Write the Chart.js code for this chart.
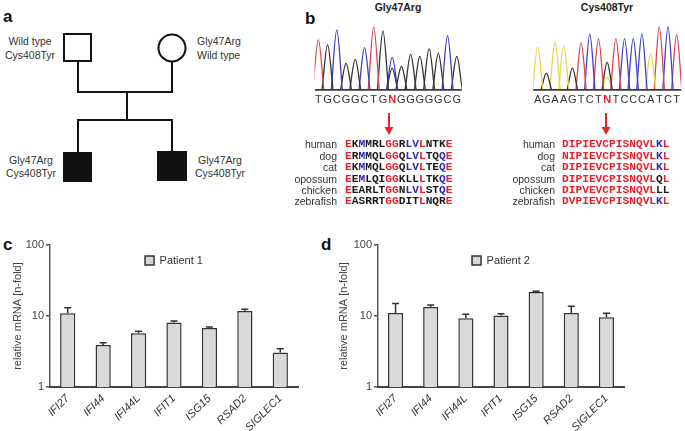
<!DOCTYPE html>
<html>
<head>
<meta charset="utf-8">
<script src="https://cdn.jsdelivr.net/npm/chart.js@4.4.1/dist/chart.umd.min.js"></script>
<style>
  body { margin: 0; width: 685px; height: 431px; position: relative; overflow: hidden; background: #fff;
         font-family: "Liberation Sans", Arial, sans-serif; color: #333; }
  .abs { position: absolute; }
  .panel { font-weight: bold; font-size: 17px; color: #111; line-height: 1; }
  .ttl { font-weight: bold; font-size: 10.5px; color: #222; transform: translateX(-50%); white-space: nowrap; }
  .row { position: absolute; height: 11.4px; line-height: 11.4px; white-space: nowrap; }
  .sp { font-size: 10.5px; color: #333; text-align: right; width: 80px; }
  .aa { font-family: "Liberation Mono", "Courier New", monospace; font-weight: bold; font-size: 11.2px; }
</style>
</head>
<body>
<!-- panel letters -->
<div class="abs panel" style="left:3px;top:8px">a</div>
<div class="abs panel" style="left:305px;top:10px">b</div>
<div class="abs panel" style="left:3px;top:236px">c</div>
<div class="abs panel" style="left:321px;top:236px">d</div>

<!-- a: pedigree -->
<svg class="abs" style="left:0;top:0" width="300" height="230" font-family="Liberation Sans, Arial, sans-serif" font-size="10.5" fill="#333">
  <g stroke="#111" stroke-width="2" fill="none">
    <rect x="64" y="34" width="27" height="27" fill="#fff"/>
    <circle cx="172" cy="48" r="13.5" fill="#fff"/>
    <polyline points="78,61 78,92 172,92 172,61.5"/>
    <line x1="127" y1="92" x2="127" y2="120"/>
    <polyline points="78,153 78,120 172,120 172,152"/>
    <rect x="64" y="153" width="27" height="28" fill="#111"/>
    <rect x="158" y="152" width="28" height="28" fill="#111"/>
  </g>
  <g text-anchor="middle" dominant-baseline="middle">
    <text x="30" y="42">Wild type</text>
    <text x="30" y="56">Cys408Tyr</text>
    <text x="31" y="161">Gly47Arg</text>
    <text x="31" y="174">Cys408Tyr</text>
    <text x="220" y="161">Gly47Arg</text>
    <text x="220" y="174">Cys408Tyr</text>
  </g>
  <g dominant-baseline="middle">
    <text x="197" y="42">Gly47Arg</text>
    <text x="197" y="56">Wild type</text>
  </g>
</svg>

<!-- b: chromatograms -->
<div class="abs ttl" style="left:398px;top:1px">Gly47Arg</div>
<div class="abs ttl" style="left:607px;top:1px">Cys408Tyr</div>
<canvas id="chromGly" class="abs" style="left:313px;top:21px" width="150" height="88"></canvas>
<canvas id="chromCys" class="abs" style="left:532px;top:21px" width="150" height="88"></canvas>
<svg class="abs" style="left:300px;top:105px" width="385" height="35">
  <g stroke="#e3262c" stroke-width="2" fill="#e3262c">
    <line x1="89" y1="8" x2="89" y2="23"/>
    <polygon points="84.5,22 93.5,22 89,30" stroke="none"/>
    <line x1="306" y1="8" x2="306" y2="23"/>
    <polygon points="301.5,22 310.5,22 306,30" stroke="none"/>
  </g>
</svg>
<div id="alnGly"></div>
<div id="alnCys"></div>

<!-- c, d: bar charts -->
<canvas id="chartC" class="abs" style="left:0;top:230px" width="340" height="201"></canvas>
<canvas id="chartD" class="abs" style="left:337px;top:230px" width="348" height="201"></canvas>

<script>
// ---- panel c / d data ----
const genes = ['IFI27', 'IFI44', 'IFI44L', 'IFIT1', 'ISG15', 'RSAD2', 'SIGLEC1'];
const patient1 = [10.9, 3.9, 5.7, 8.1, 6.8, 11.8, 3.05];
const patient1ErrTop = [13.1, 4.2, 6.1, 8.5, 7.0, 12.4, 3.45];
const patient2 = [11.0, 13.4, 9.3, 10.2, 21.8, 11.0, 9.6];
const patient2ErrTop = [15.0, 14.3, 10.6, 10.8, 22.4, 13.7, 10.9];
const yTicks = [1, 10, 100];

// ---- panel b data ----
const seqGly = ['T','G','C','G','G','C','T','G','N','G','G','G','G','G','C','G'];
const peakGly = ['T','G','C','G','G','C','T','G','C','G','G','G','G','G','C','G'];
const heightGly = [51, 46, 61, 27, 31, 43, 64, 60, 33, 24, 36, 34, 42, 37, 55, 34];
const hetGly = [8, 'G', 22];   // second peak under N: position, base, height

const seqCys = ['A','G','A','A','G','T','C','T','N','T','C','C','C','A','T','C','T'];
const peakCys = ['A','G','A','A','G','T','C','T','G','T','C','C','C','A','T','C','T'];
const heightCys = [44, 17, 49, 45, 22, 48, 57, 52, 28, 52, 52, 52, 57, 37, 64, 64, 56];
const hetCys = [8, 'A', 13];

const baseColors = { A: '#e9d650', C: '#3f3fc4', G: '#333333', T: '#dc4650' };

const species = ['human', 'dog', 'cat', 'opossum', 'chicken', 'zebrafish'];
const alnGly = ['EKMMRLGGRLVLNTKE', 'ERMMQLGGQLVLTQQE', 'EKMMQLGGQLVLTEQE',
                'EEMLQIGGKLLLTKQE', 'EEARLTGGNLVLSTQE', 'EASRRTGGDITLNQRE'];
const alnGlyCol = ['rkbkkkrrkbbrkkkr', 'rkbkkkrrkbbrkkbr', 'rkbkkkrrkbbrkkbr',
                   'rkbkkkrrkkkrkkbr', 'rkkkkkrrkbbrkkbr', 'rkkkkkrrkkkrkkkr'];
const alnCys = ['DIPIEVCPISNQVLKL', 'NIPIEVCPISNQVLKL', 'DIPIEVCPISNQVLKL',
                'DIPIEVCPISNQVLQL', 'DIPVEVCPISNQVLLL', 'DVPIEVCPISNQVLKL'];
const alnCysCol = ['rrrrrrrrrrrrrrbr', 'rrrrrrrrrrrrrrbr', 'rrrrrrrrrrrrrrbr',
                   'rrrrrrrrrrrrrrkr', 'rrrrrrrrrrrrrrkk', 'rrrrrrrrrrrrrrbr'];
const resColors = { r: '#e8222c', b: '#2a2ab4', k: '#1a1a1a' };

// alignments
function buildAlignment(id, labelRight, seqLeft, seqs, cols) {
    const box = document.getElementById(id);
    species.forEach((name, r) => {
        const top = 139.3 + r * 11.4;
        const lab = document.createElement('div');
        lab.className = 'row sp';
        lab.style.left = (labelRight - 80) + 'px';
        lab.style.top = top + 'px';
        lab.textContent = name;
        box.appendChild(lab);
        const s = document.createElement('div');
        s.className = 'row aa';
        s.style.left = seqLeft + 'px';
        s.style.top = top + 'px';
        s.innerHTML = [...seqs[r]].map((c, i) =>
            '<span style="color:' + resColors[cols[r][i]] + '">' + c + '</span>').join('');
        box.appendChild(s);
    });
}
buildAlignment('alnGly', 337, 345, alnGly, alnGlyCol);
buildAlignment('alnCys', 555, 562, alnCys, alnCysCol);

// chromatograms
function peak(pos, base, h) {
    return {
        data: [{ x: pos - 0.6, y: 0 }, { x: pos, y: h }, { x: pos + 0.6, y: 0 }],
        borderColor: baseColors[base],
        borderWidth: 1.3,
        cubicInterpolationMode: 'monotone',
        pointRadius: 0,
        fill: false
    };
}

function chromatogram(id, seq, bases, heights, het, xmin, xmax) {
    const datasets = [{
        data: [{ x: xmin, y: 0 }, { x: xmax, y: 0 }],
        borderColor: '#3a3a3a', borderWidth: 1.6, pointRadius: 0
    }];
    bases.forEach((b, i) => datasets.push(peak(i, b, heights[i])));
    datasets.push(peak(het[0], het[1], het[2]));

    new Chart(document.getElementById(id), {
        type: 'line',
        data: { datasets: datasets },
        options: {
            responsive: false,
            animation: false,
            events: [],
            layout: { padding: 0 },
            plugins: { legend: { display: false }, tooltip: { enabled: false } },
            scales: {
                x: {
                    type: 'linear', min: xmin, max: xmax,
                    grid: { display: false, drawTicks: false },
                    border: { display: false },
                    afterBuildTicks: s => { s.ticks = seq.map((c, i) => ({ value: i })); },
                    ticks: {
                        autoSkip: false, maxRotation: 0, padding: 2,
                        callback: v => seq[Math.round(v)],
                        color: ctx => seq[ctx.index] === 'N' ? '#e3262c' : '#333',
                        font: ctx => ({ family: 'Liberation Sans', size: 11,
                                        weight: seq[ctx.index] === 'N' ? 'bold' : 'normal' })
                    }
                },
                y: { display: false, min: -2, max: 70 }
            }
        }
    });
}
chromatogram('chromGly', seqGly, peakGly, heightGly, hetGly, -0.4, 15.55);
chromatogram('chromCys', seqCys, peakCys, heightCys, hetCys, -0.53, 16.53);

// one-sided (upper) error bars
const errorBars = {
    id: 'errorBars',
    afterDatasetsDraw(chart) {
        const ctx = chart.ctx;
        const y = chart.scales.y;
        chart.data.datasets.forEach((ds, di) => {
            chart.getDatasetMeta(di).data.forEach((bar, i) => {
                const top = y.getPixelForValue(ds.errTop[i]);
                ctx.save();
                ctx.strokeStyle = '#333';
                ctx.lineWidth = 1.5;
                ctx.beginPath();
                ctx.moveTo(bar.x, bar.y);
                ctx.lineTo(bar.x, top);
                ctx.moveTo(bar.x - 3.5, top);
                ctx.lineTo(bar.x + 3.5, top);
                ctx.stroke();
                ctx.restore();
            });
        });
    }
};

// legend sits inside the plot, centred near the top
const centerLegend = {
    id: 'centerLegend',
    afterLayout(chart) {
        const l = chart.legend, ca = chart.chartArea;
        const w = l.width, h = l.height;
        l.left = (ca.left + ca.right) / 2 - w / 2;
        l.right = l.left + w;
        l.top = ca.top;
        l.bottom = l.top + h;
    }
};

function barChart(id, label, values, errTop, yWidth, titlePad, rightPad) {
    new Chart(document.getElementById(id), {
        type: 'bar',
        data: {
            labels: genes,
            datasets: [{
                label: label,
                data: values,
                errTop: errTop,
                backgroundColor: '#d9d9d9',
                borderColor: '#333',
                borderWidth: 1.5,
                barPercentage: 0.43,
                categoryPercentage: 1
            }]
        },
        plugins: [errorBars, centerLegend],
        options: {
            responsive: false,
            animation: false,
            events: [],
            layout: { padding: { top: 15, right: rightPad, left: 0, bottom: 0 } },
            plugins: {
                tooltip: { enabled: false },
                legend: {
                    position: 'chartArea',
                    align: 'start',
                    labels: { boxWidth: 9, boxHeight: 9, padding: 10, color: '#333',
                              font: { family: 'Liberation Sans', size: 11 } }
                }
            },
            scales: {
                x: {
                    grid: { display: false, drawTicks: false },
                    border: { color: '#444', width: 2 },
                    afterFit: s => { s.height = 44; },
                    ticks: {
                        minRotation: 45, maxRotation: 45, padding: 5, color: '#333',
                        font: { family: 'Liberation Sans', size: 11, style: 'italic' }
                    }
                },
                y: {
                    type: 'logarithmic', min: 1, max: 100,
                    afterBuildTicks: s => { s.ticks = yTicks.map(v => ({ value: v })); },
                    afterFit: s => { s.width = yWidth; },
                    grid: { drawOnChartArea: false, drawTicks: true, tickLength: 4, color: '#555', lineWidth: 1.5 },
                    border: { color: '#555', width: 1.5 },
                    ticks: { padding: 2, color: '#444', callback: v => String(v),
                             font: { family: 'Liberation Sans', size: 11 } },
                    title: { display: true, text: 'relative mRNA [n-fold]', color: '#444',
                             padding: { top: titlePad, bottom: 0 },
                             font: { family: 'Liberation Sans', size: 11 } }
                }
            }
        }
    });
}
barChart('chartC', 'Patient 1', patient1, patient1ErrTop, 50, 11.4, 42);
barChart('chartD', 'Patient 2', patient2, patient2ErrTop, 41, 0, 61);
</script>
</body>
</html>
